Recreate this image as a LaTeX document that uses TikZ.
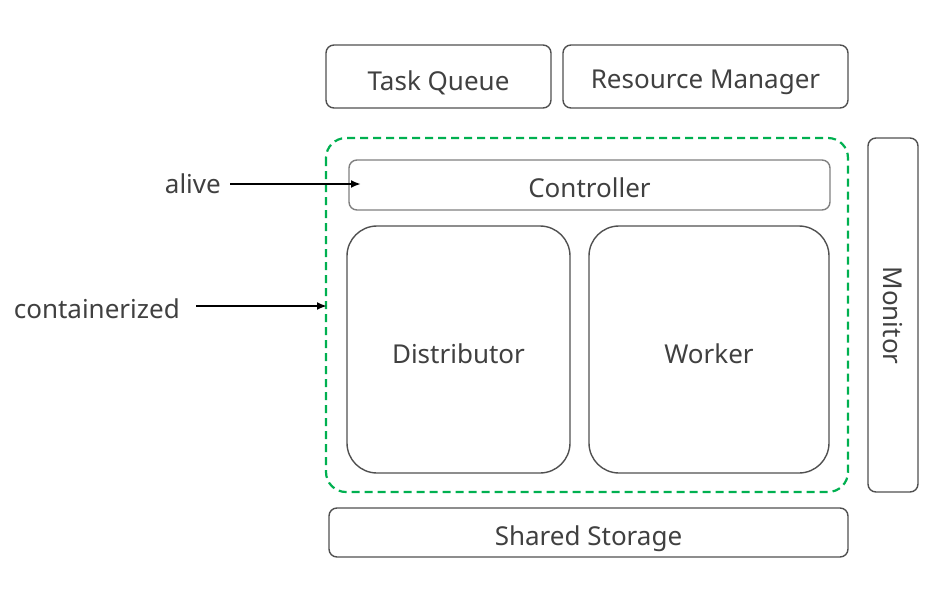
\documentclass[tikz,border=0pt]{standalone}
\usepackage{fontspec}
\setmainfont{Noto Sans}
\usetikzlibrary{arrows.meta}
\definecolor{txt}{HTML}{404040}
\definecolor{bord}{HTML}{505050}
\definecolor{grn}{HTML}{00B050}
\begin{document}
\begin{tikzpicture}[x=1pt,y=-1pt,
  box/.style={draw=bord,line width=1.4pt,rounded corners=8pt},
  bigbox/.style={draw=bord,line width=1.4pt,rounded corners=30pt},
  lbl/.style={text=txt,font=\fontsize{26}{30}\selectfont,inner sep=0pt,anchor=base},
  arr/.style={-{Latex[length=10pt,width=8pt]},line width=2.4pt,black}]
\useasboundingbox (0,0) rectangle (946,595);
% boxes
\draw[box] (326,45) rectangle (551,108);
\node[lbl] (tq) at (438.5,90) {Task Queue};
\draw[box] (563,45) rectangle (848,108);
\node[lbl] (rm) at (705.5,88) {Resource Manager};
\draw[draw=grn,line width=2.2pt,dash pattern=on 8pt off 5pt,rounded corners=20pt] (326,138) rectangle (848,492);
\coordinate (contL) at (327,306);
\draw[box,draw=gray] (349,160) rectangle (830,210);
\node[lbl] (ctl) at (589.5,197) {Controller};
\coordinate (ctlIn) at (361,184);
\draw[bigbox] (347,226) rectangle (570,473);
\node[lbl] (dist) at (458.5,363) {Distributor};
\draw[bigbox] (589,226) rectangle (829,473);
\node[lbl] (wk) at (709,363) {Worker};
\draw[box] (868,138) rectangle (918,492);
\node[lbl,rotate=-90] (mon) at (883,315.5) {Monitor};
\draw[box] (329,508) rectangle (848,557);
\node[lbl] (ss) at (588.5,545) {Shared Storage};
% labels
\node[lbl,anchor=base east] (alive) at (221,193) {alive};
\node[lbl,anchor=base east] (cont) at (180,318) {containerized};
\coordinate (aliveS) at (230,184);
\coordinate (contS) at (196,306);
\draw[arr] (aliveS) -- (ctlIn);
\draw[arr] (contS) -- (contL);
\end{tikzpicture}
\end{document}
